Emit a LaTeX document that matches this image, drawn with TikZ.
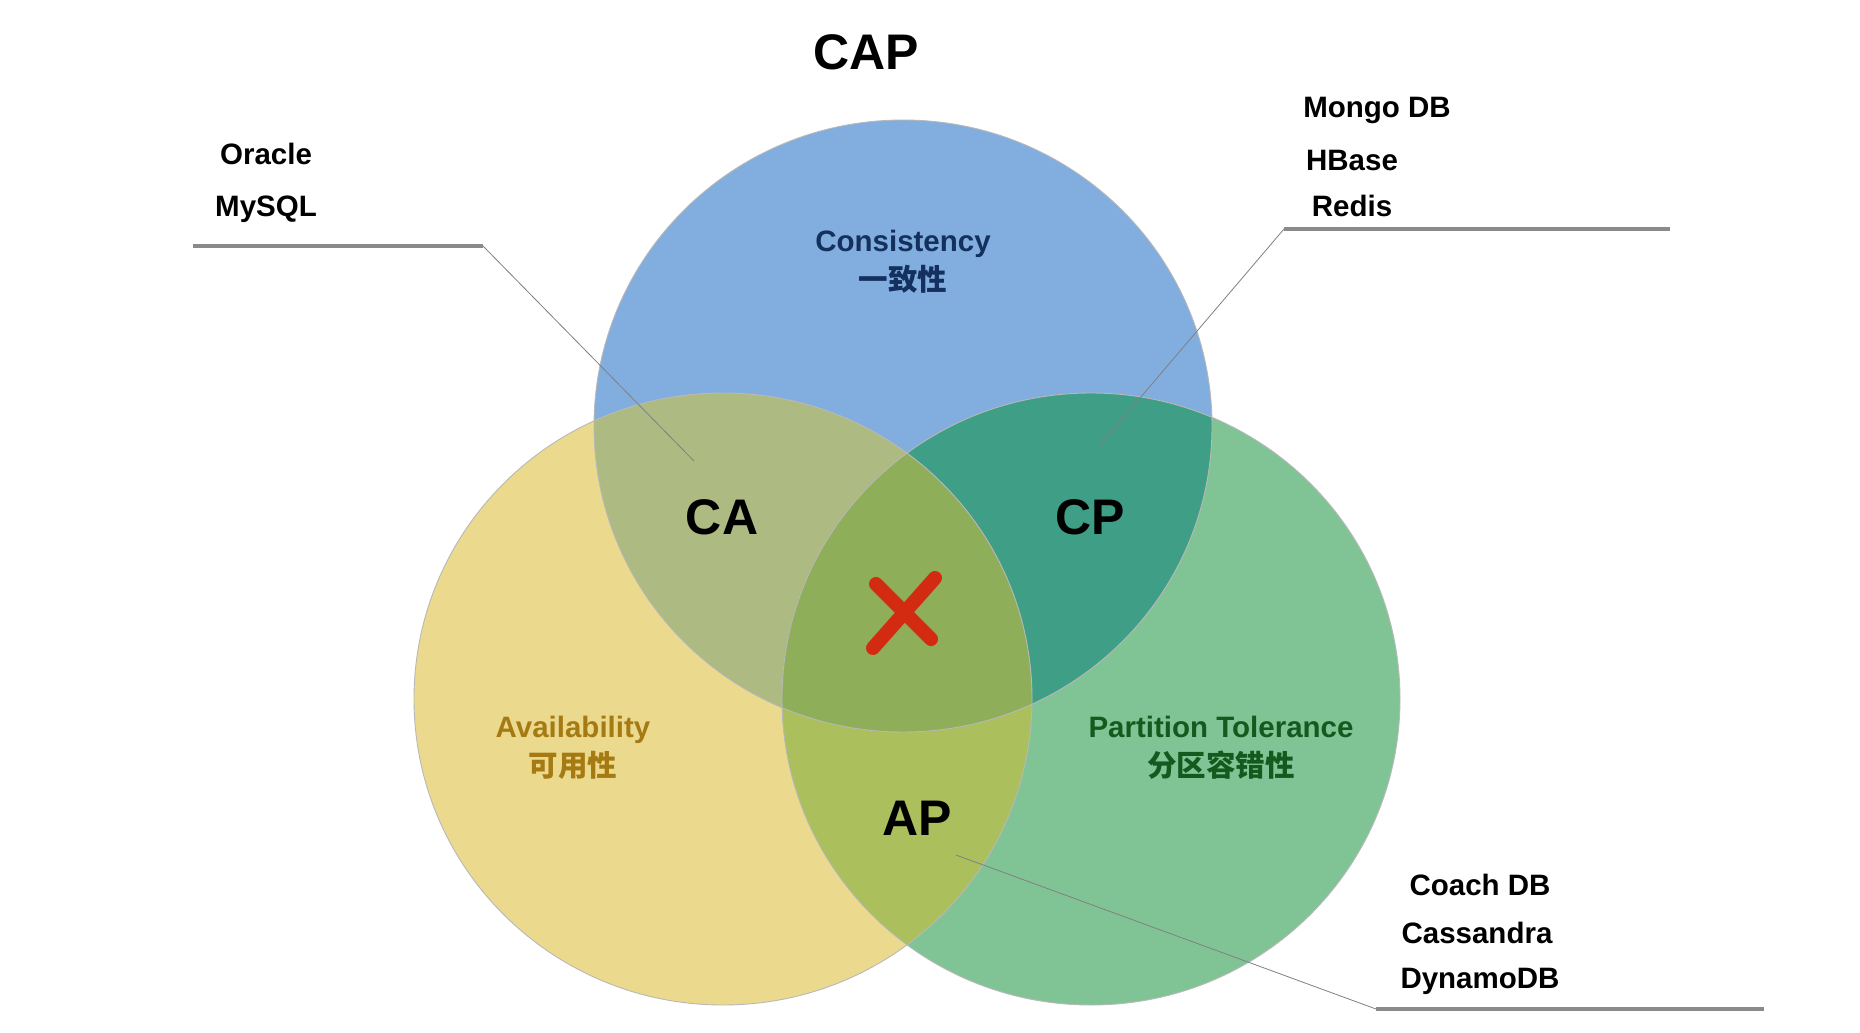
\documentclass[tikz,border=0pt]{standalone}
\usepackage{fontspec}
\setmainfont{Liberation Sans}
\newfontfamily\cjk{Noto Sans CJK SC}
\definecolor{cblue}{HTML}{81AEDE}
\definecolor{cyellow}{HTML}{EBDA8E}
\definecolor{cgreen}{HTML}{80C495}
\definecolor{cCA}{HTML}{ADBA82}
\definecolor{cCP}{HTML}{3F9E86}
\definecolor{cAP}{HTML}{ABBF5C}
\definecolor{cAll}{HTML}{8EAE5A}
\definecolor{tnavy}{HTML}{13305F}
\definecolor{tgold}{HTML}{A67A12}
\definecolor{tgreen}{HTML}{145A1E}
\definecolor{xred}{HTML}{D22B12}
\definecolor{ulgray}{HTML}{8A8A8A}
\begin{document}
\begin{tikzpicture}[x=1pt,y=-1pt,
  big/.style={font=\fontsize{50}{58}\selectfont\bfseries, inner sep=0pt},
  lbl/.style={font=\fontsize{29.5}{39}\selectfont\bfseries, align=center, inner sep=0pt},
  db/.style={font=\fontsize{29.5}{34}\selectfont\bfseries, inner sep=0pt},
  uline/.style={draw=ulgray, line width=3.5pt},
  leader/.style={draw=gray, line width=0.8pt},
  rim/.style={draw=black!28, line width=0.9pt},
  xmark/.style={draw=xred, line width=14pt, line cap=round}]
\useasboundingbox (0,0) rectangle (1860,1033);
\fill[white] (0,0) rectangle (1860,1033);
\def\cB{(903,426) ellipse [x radius=309pt, y radius=306pt]}
\def\cY{(723,699) ellipse [x radius=309pt, y radius=306pt]}
\def\cG{(1091,699) ellipse [x radius=309pt, y radius=306pt]}
% single regions
\fill[cblue] \cB;
\fill[cyellow] \cY;
\fill[cgreen] \cG;
% pairwise overlaps
\begin{scope}\clip \cB; \fill[cCA] \cY; \end{scope}
\begin{scope}\clip \cB; \fill[cCP] \cG; \end{scope}
\begin{scope}\clip \cY; \fill[cAP] \cG; \end{scope}
\begin{scope}\clip \cB; \clip \cY; \fill[cAll] \cG; \end{scope}
% rims
\draw[rim] \cB;
\draw[rim] \cY;
\draw[rim] \cG;
% title
\node[big] (cap) at (866,52) {CAP};
% set labels
\node[lbl, text=tnavy] (cons) at (903,262) {Consistency\\{\cjk\bfseries 一致性}};
\node[lbl, text=tgold] (avail) at (573,748) {Availability\\{\cjk\bfseries 可用性}};
\node[lbl, text=tgreen] (part) at (1221,748) {Partition Tolerance\\{\cjk\bfseries 分区容错性}};
% pair labels
\node[big] (ca) at (722,517) {CA};
\node[big] (cp) at (1090,517) {CP};
\node[big] (ap) at (917,818) {AP};
% red cross
\coordinate (x1a) at (876,584);
\coordinate (x1b) at (931,639);
\coordinate (x2a) at (935,578);
\coordinate (x2b) at (873,648);
\draw[xmark] (x1a) -- (x1b);
\draw[xmark] (x2a) -- (x2b);
% database lists
\node[db] (oracle) at (266,154) {Oracle};
\node[db] (mysql) at (266,209) {MySQL};
\node[db] (mongo) at (1377,110) {Mongo DB};
\node[db] (hbase) at (1352,160) {HBase};
\node[db] (redis) at (1352,206) {Redis};
\node[db] (coach) at (1480,885) {Coach DB};
\node[db] (cass) at (1477,933) {Cassandra};
\node[db] (dyn) at (1480,981) {DynamoDB};
% underlines and leaders
\coordinate (lu1) at (193,246);
\coordinate (lu2) at (483,246);
\coordinate (caend) at (694,461);
\coordinate (ru1) at (1284,229);
\coordinate (ru2) at (1670,229);
\coordinate (cpend) at (1100,445);
\coordinate (bu1) at (1376,1009);
\coordinate (bu2) at (1764,1009);
\coordinate (apend) at (956,855);
\draw[uline] (lu1) -- (lu2);
\draw[uline] (ru1) -- (ru2);
\draw[uline] (bu1) -- (bu2);
\draw[leader] (lu2) -- (caend);
\draw[leader] (ru1) -- (cpend);
\draw[leader] (apend) -- (bu1);
\end{tikzpicture}
\end{document}
